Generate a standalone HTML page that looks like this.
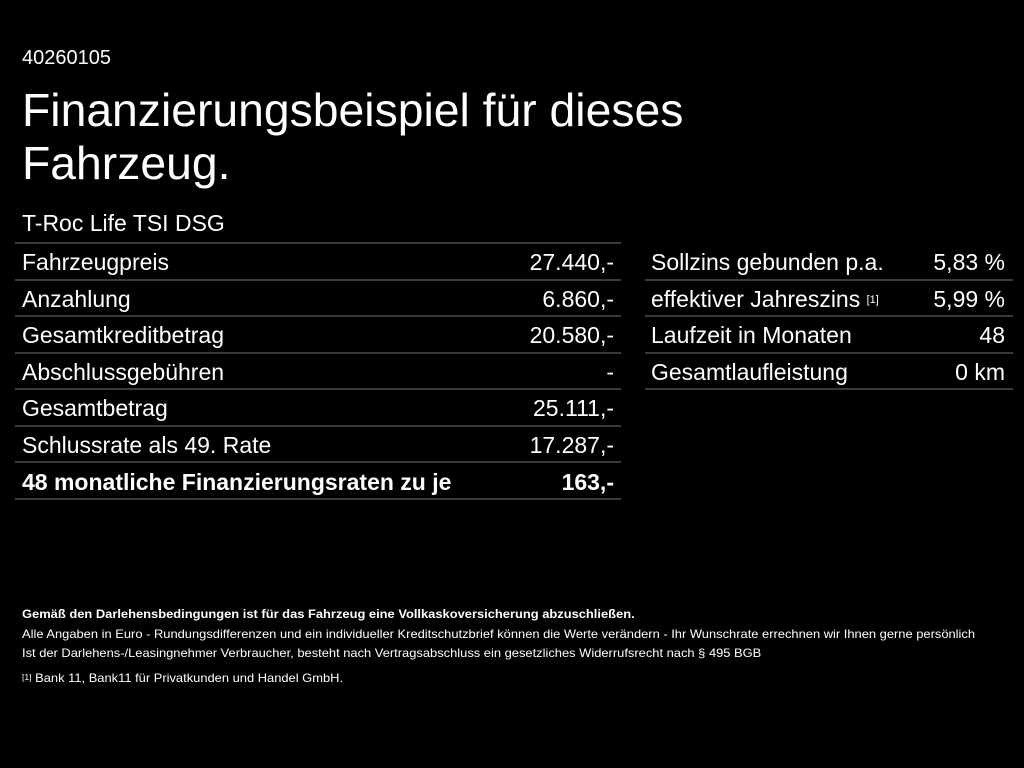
<!DOCTYPE html>
<html><head><meta charset="utf-8"><style>
body{margin:0;width:1024px;height:768px;background:#000;color:#fff;font-family:"Liberation Sans",sans-serif;position:relative;overflow:hidden}
.a{position:absolute;white-space:nowrap}
.l{position:absolute;height:2px;background:#3a3a3a}
.r{position:absolute;font-size:23px;line-height:36px;white-space:nowrap}
.v{text-align:right}
.s{font-size:12px;line-height:12px;transform:scaleX(1.075);transform-origin:0 0}
sup{font-size:11px;line-height:0;position:relative;top:-4px;vertical-align:baseline}
</style></head><body>
<div class="a" style="left:22px;top:47px;font-size:20px">40260105</div>
<div class="a" style="left:22px;top:84px;font-size:46.3px;line-height:53px">Finanzierungsbeispiel für dieses<br>Fahrzeug.</div>
<div class="a" style="left:22px;top:210px;font-size:23px">T-Roc Life TSI DSG</div>

<div class="l" style="left:15px;width:606px;top:242px"></div>
<div class="l" style="left:15px;width:606px;top:279px"></div>
<div class="l" style="left:15px;width:606px;top:315px"></div>
<div class="l" style="left:15px;width:606px;top:352px"></div>
<div class="l" style="left:15px;width:606px;top:388px"></div>
<div class="l" style="left:15px;width:606px;top:425px"></div>
<div class="l" style="left:15px;width:606px;top:461px"></div>
<div class="l" style="left:15px;width:606px;top:498px"></div>

<div class="l" style="left:645px;width:368px;top:279px"></div>
<div class="l" style="left:645px;width:368px;top:315px"></div>
<div class="l" style="left:645px;width:368px;top:352px"></div>
<div class="l" style="left:645px;width:368px;top:388px"></div>

<div class="r" style="left:22px;top:244px">Fahrzeugpreis</div><div class="r v" style="right:410px;top:244px">27.440,-</div>
<div class="r" style="left:22px;top:281px">Anzahlung</div><div class="r v" style="right:410px;top:281px">6.860,-</div>
<div class="r" style="left:22px;top:317px">Gesamtkreditbetrag</div><div class="r v" style="right:410px;top:317px">20.580,-</div>
<div class="r" style="left:22px;top:354px">Abschlussgebühren</div><div class="r v" style="right:410px;top:354px">-</div>
<div class="r" style="left:22px;top:390px">Gesamtbetrag</div><div class="r v" style="right:410px;top:390px">25.111,-</div>
<div class="r" style="left:22px;top:427px">Schlussrate als 49. Rate</div><div class="r v" style="right:410px;top:427px">17.287,-</div>
<div class="r" style="left:22px;top:464px;font-weight:bold">48 monatliche Finanzierungsraten zu je</div><div class="r v" style="right:410px;top:464px;font-weight:bold">163,-</div>

<div class="r" style="left:651px;top:244px">Sollzins gebunden p.a.</div><div class="r v" style="right:19px;top:244px">5,83 %</div>
<div class="r" style="left:651px;top:281px">effektiver Jahreszins <sup>[1]</sup></div><div class="r v" style="right:19px;top:281px">5,99 %</div>
<div class="r" style="left:651px;top:317px">Laufzeit in Monaten</div><div class="r v" style="right:19px;top:317px">48</div>
<div class="r" style="left:651px;top:354px">Gesamtlaufleistung</div><div class="r v" style="right:19px;top:354px">0 km</div>

<div class="a s" style="left:22px;top:608px;font-weight:bold">Gemäß den Darlehensbedingungen ist für das Fahrzeug eine Vollkaskoversicherung abzuschließen.</div>
<div class="a s" style="left:22px;top:628px">Alle Angaben in Euro - Rundungsdifferenzen und ein individueller Kreditschutzbrief können die Werte verändern - Ihr Wunschrate errechnen wir Ihnen gerne persönlich</div>
<div class="a s" style="left:22px;top:647px">Ist der Darlehens-/Leasingnehmer Verbraucher, besteht nach Vertragsabschluss ein gesetzliches Widerrufsrecht nach § 495 BGB</div>
<div class="a s" style="left:22px;top:672px"><span style="font-size:8px;position:relative;top:-2px">[1]</span> Bank 11, Bank11 für Privatkunden und Handel GmbH.</div>
</body></html>
